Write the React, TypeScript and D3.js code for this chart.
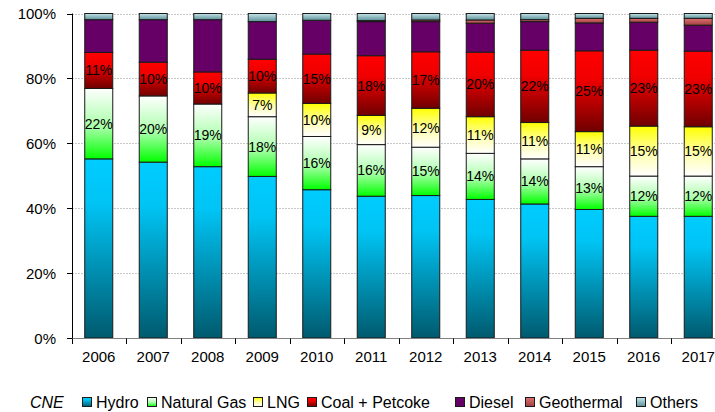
import React from 'react';
import * as d3 from 'd3';

const years = ['2006','2007','2008','2009','2010','2011','2012','2013','2014','2015','2016','2017'];
const hydro = [55.2, 54.2, 52.8, 49.8, 45.7, 43.7, 43.9, 42.7, 41.3, 39.6, 37.5, 37.5];
const naturalGas = [21.7, 20.4, 19.3, 18.4, 16.4, 15.9, 14.9, 14.2, 13.9, 13.2, 12.4, 12.4];
const lng = [0, 0, 0, 7.3, 10.2, 9.0, 12.0, 11.3, 11.2, 10.8, 15.4, 15.2];
const coal = [11.1, 10.4, 9.9, 10.4, 15.2, 18.4, 17.4, 19.9, 22.3, 24.9, 23.4, 23.3];
const diesel = [10.1, 13.1, 16.1, 11.6, 10.4, 10.5, 9.3, 8.9, 8.8, 8.6, 8.6, 8.0];
const geothermal = [0, 0, 0, 0, 0, 0.3, 0.5, 1.0, 0.6, 1.4, 1.2, 2.1];
const others = [1.9, 1.9, 1.9, 2.5, 2.1, 2.2, 2.0, 2.0, 1.9, 1.5, 1.5, 1.5];

const seriesNames = ['Hydro', 'Natural Gas', 'LNG', 'Coal + Petcoke', 'Diesel', 'Geothermal', 'Others'];
const seriesValues = [hydro, naturalGas, lng, coal, diesel, geothermal, others];
const labelledSeries = ['Natural Gas', 'LNG', 'Coal + Petcoke'];
const yTicks = [0, 0.2, 0.4, 0.6, 0.8, 1.0];
const sourceLabel = 'CNE';

// gradient stops: [offset, color] top -> bottom
const gradients: Record<string, [number, string][]> = {
  'Hydro': [[0, '#00ccff'], [0.25, '#00c4f4'], [1, '#005a6e']],
  'Natural Gas': [[0, '#ffffff'], [0.55, '#a8ffa8'], [1, '#00ff00']],
  'LNG': [[0, '#ffff00'], [0.55, '#ffffb0'], [1, '#ffffff']],
  'Coal + Petcoke': [[0, '#ff0000'], [0.35, '#f00000'], [1, '#700000']],
  'Diesel': [[0, '#660066'], [1, '#660066']],
  'Geothermal': [[0, '#e07070'], [1, '#a04040']],
  'Others': [[0, '#c4e6ea'], [1, '#5e9098']],
};

const W = 715, H = 412;
const FONT = "'Liberation Sans', Arial, Helvetica, sans-serif";

export default function App() {
  const rows = years.map((y, i) => {
    const r: any = { year: y };
    seriesNames.forEach((s, j) => { r[s] = seriesValues[j][i]; });
    return r;
  });
  const stack = d3.stack<any>().keys(seriesNames).offset(d3.stackOffsetExpand);
  const stacked = stack(rows);

  const x = d3.scaleBand<string>().domain(years).range([71.5, 725.5]).paddingInner(0.486).paddingOuter(0.243);
  const y = d3.scaleLinear().domain([0, 1]).range([338, 13.5]);
  const step = x.step();
  const gap = (step - x.bandwidth()) / 2;
  const fmt = d3.format('.0%');

  const id = (s: string) => 'g_' + s.replace(/[^a-zA-Z]/g, '');

  const legendItems = [
    { name: 'Hydro', x: 82 },
    { name: 'Natural Gas', x: 147 },
    { name: 'LNG', x: 253 },
    { name: 'Coal + Petcoke', x: 307 },
    { name: 'Diesel', x: 455 },
    { name: 'Geothermal', x: 525 },
    { name: 'Others', x: 636 },
  ];

  return (
    <svg width={W} height={H} style={{ position: 'absolute', left: 0, top: 0, background: '#fff' }} fontFamily={FONT}>
      <defs>
        {seriesNames.map(s => (
          <linearGradient key={s} id={id(s)} x1="0" y1="0" x2="0" y2="1">
            {gradients[s].map(([o, c], k) => <stop key={k} offset={o} stopColor={c} />)}
          </linearGradient>
        ))}
      </defs>
      {/* gridlines */}
      {yTicks.map(t => (
        <line key={t} x1={72} x2={W} y1={Math.round(y(t)) + 0.5} y2={Math.round(y(t)) + 0.5}
          stroke="#c8c8c8" strokeWidth={1} strokeDasharray="2,1" />
      ))}
      {/* bars */}
      {stacked.map(series => (
        <g key={series.key}>
          {series.map((d, i) => {
            const h = y(d[0]) - y(d[1]);
            if (h <= 0.01) return null;
            return (
              <rect key={i} x={x(years[i])!} y={y(d[1])} width={x.bandwidth()} height={h}
                fill={`url(#${id(series.key)})`} stroke="#1a1a1a" strokeWidth={1} />
            );
          })}
        </g>
      ))}
      {/* labels */}
      {stacked.filter(s => labelledSeries.includes(s.key)).map(series => (
        <g key={'l' + series.key}>
          {series.map((d, i) => {
            const v = d[1] - d[0];
            if (v <= 0.001) return null;
            return (
              <text key={i} x={x(years[i])! + x.bandwidth() / 2} y={(y(d[0]) + y(d[1])) / 2 + 5}
                textAnchor="middle" fontSize={14} fill="#000">{fmt(v)}</text>
            );
          })}
        </g>
      ))}
      {/* y axis */}
      <line x1={72.5} x2={72.5} y1={y(1)} y2={y(0)} stroke="#000" strokeWidth={1} />
      {yTicks.map(t => (
        <g key={'yt' + t}>
          <line x1={67} x2={72.5} y1={Math.round(y(t)) + 0.5} y2={Math.round(y(t)) + 0.5} stroke="#000" />
          <text x={56} y={y(t) + 5.5} textAnchor="end" fontSize={15} fill="#000">{fmt(t)}</text>
        </g>
      ))}
      {/* x axis */}
      <line x1={72} x2={W} y1={338.5} y2={338.5} stroke="#808080" strokeWidth={1} />
      {d3.range(years.length + 1).map(i => {
        const xx = Math.round(x(years[0])! - gap + i * step) + 0.5;
        return <line key={'xt' + i} x1={xx} x2={xx} y1={338.5} y2={344} stroke="#000" />;
      })}
      {years.map(yr => (
        <text key={'xl' + yr} x={x(yr)! + x.bandwidth() / 2} y={362} textAnchor="middle" fontSize={15} fill="#000">{yr}</text>
      ))}
      {/* legend */}
      <text x={30} y={408} fontSize={16} fontStyle="italic" fill="#000">{sourceLabel}</text>
      {legendItems.map(it => (
        <g key={'lg' + it.name}>
          <rect x={it.x + 0.5} y={397.5} width={9} height={9} fill={`url(#${id(it.name)})`} stroke="#1a1a1a" />
          <text x={it.x + 14} y={408} fontSize={16} fill="#000">{it.name}</text>
        </g>
      ))}
    </svg>
  );
}
